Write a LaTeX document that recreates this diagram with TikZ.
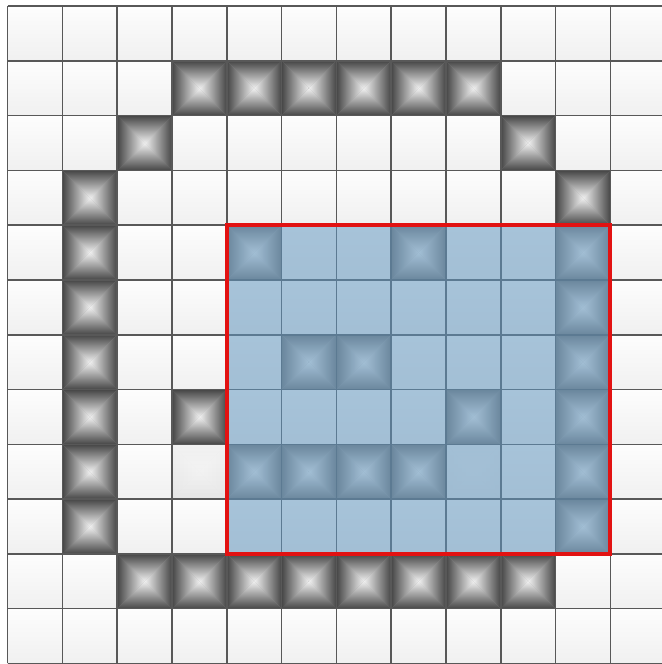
\documentclass[tikz,border=0pt]{standalone}
\usepackage{xcolor}
\usepackage{tikz}
\definecolor{GridLine}{RGB}{88,88,88}
\definecolor{CellTop}{RGB}{253,253,253}
\definecolor{CellBot}{RGB}{240,240,240}
\definecolor{WallEdge}{RGB}{70,70,70}
\definecolor{WallMid}{RGB}{240,240,240}
\definecolor{ZoneBlue}{RGB}{125,167,200}
\definecolor{ZoneLine}{RGB}{92,122,146}
\definecolor{ZoneRed}{RGB}{226,18,18}

% one raised wall cell, column #1, row #2 (rows counted downwards)
\newcommand{\wallcell}[2]{%
  \fill[WallEdge!55!WallMid] (#1,-#2) rectangle ({#1+1},{-#2-1});
  \shade[top color=WallEdge, bottom color=WallMid] (#1,-#2) -- ({#1+1},-#2) -- ({#1+0.5},{-#2-0.5}) -- cycle;
  \shade[top color=WallMid, bottom color=WallEdge] (#1,{-#2-1}) -- ({#1+1},{-#2-1}) -- ({#1+0.5},{-#2-0.5}) -- cycle;
  \shade[left color=WallEdge, right color=WallMid] (#1,-#2) -- (#1,{-#2-1}) -- ({#1+0.5},{-#2-0.5}) -- cycle;
  \shade[left color=WallMid, right color=WallEdge] ({#1+1},-#2) -- ({#1+1},{-#2-1}) -- ({#1+0.5},{-#2-0.5}) -- cycle;
}

\begin{document}
\begin{tikzpicture}[x=1cm,y=1cm]
        \useasboundingbox (-0.14,-12.01) rectangle (11.94,0.11);
        \fill[white] (-0.14,-12.01) rectangle (11.94,0.11);
        % plain cells
        \foreach \c in {0,...,11} {
          \foreach \r in {0,...,11} {
            \shade[top color=CellTop, bottom color=CellBot] (\c,-\r) rectangle (\c+1,-\r-1);
          }
        }
        % walls
        \foreach \c/\r in {3/1,4/1,5/1,6/1,7/1,8/1,2/2,9/2,1/3,10/3,
                           1/4,1/5,1/6,1/7,1/8,1/9,3/7,
                           2/10,3/10,4/10,5/10,6/10,7/10,8/10,9/10,
                           4/4,7/4,10/4,10/5,10/6,10/7,10/8,10/9,
                           5/6,6/6,8/7,4/8,5/8,6/8,7/8} {
          \wallcell{\c}{\r}
        }
        % fading cells
        \begin{scope}[opacity=0.04]
          \wallcell{3}{8}
          \wallcell{8}{8}
        \end{scope}
        \draw[GridLine, line width=0.8pt] (0,0) grid (12,-12);
        % selected zone
        \fill[ZoneBlue, opacity=0.67] (4,-4) rectangle (11,-10);
        \draw[ZoneLine, line width=0.8pt] (4,-4) grid (11,-10);
        \draw[ZoneRed, line width=2pt] (4,-4) rectangle (11,-10);
      \end{tikzpicture}
\end{document}
